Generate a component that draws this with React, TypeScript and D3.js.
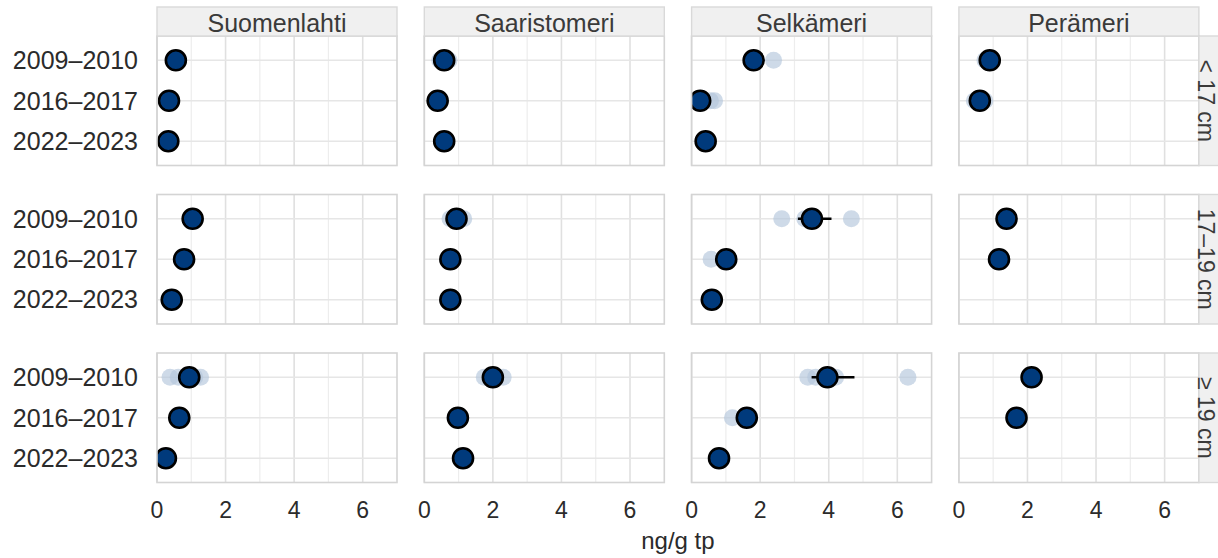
import { useEffect, useRef } from 'react';
import * as d3 from 'd3';

const regions = ['Suomenlahti', 'Saaristomeri', 'Selkämeri', 'Perämeri'];
const sizeClasses = ['< 17 cm', '17–19 cm', '≥ 19 cm'];
const periods = ['2009–2010', '2016–2017', '2022–2023'];
const xTicks = [0, 2, 4, 6];
const xMinor = [1, 3, 5];

// mean per region, one value per period (null = no sample)
const meanSmall = [
  [0.55, 0.35, 0.33],
  [0.58, 0.39, 0.58],
  [1.81, 0.25, 0.41],
  [0.9, 0.61, null],
];
const meanMedium = [
  [1.04, 0.79, 0.43],
  [0.94, 0.76, 0.76],
  [3.51, 1.01, 0.59],
  [1.39, 1.17, null],
];
const meanLarge = [
  [0.94, 0.65, 0.26],
  [2.0, 0.98, 1.13],
  [3.96, 1.61, 0.8],
  [2.12, 1.68, null],
];
const means = [meanSmall, meanMedium, meanLarge];

// [size, region, period, lo, hi]
const errorBars = [
  [1, 2, 0, 3.1, 4.08],
  [2, 2, 0, 3.5, 4.75],
];

// individual samples: [size, region, period, value]
const samples = [
  [0, 1, 0, 0.45], [0, 1, 0, 0.72],
  [0, 2, 0, 2.39], [0, 2, 1, 0.55], [0, 2, 1, 0.67],
  [0, 3, 0, 0.76], [0, 3, 0, 0.95], [0, 3, 1, 0.45], [0, 3, 1, 0.76],
  [1, 1, 0, 0.75], [1, 1, 0, 1.15],
  [1, 2, 0, 2.63], [1, 2, 0, 3.3], [1, 2, 0, 4.66], [1, 2, 1, 0.57],
  [2, 0, 0, 0.38], [2, 0, 0, 0.62], [2, 0, 0, 1.1], [2, 0, 0, 1.27],
  [2, 1, 0, 1.75], [2, 1, 0, 2.3],
  [2, 2, 0, 3.39], [2, 2, 0, 3.62], [2, 2, 0, 4.2], [2, 2, 0, 6.31], [2, 2, 1, 1.19],
];

const W = 1218;
const H = 558;
const FONT = '"Liberation Sans", Arial, Helvetica, sans-serif';
const TEXT = '#2b2b2b';

const App = () => {
  const svgRef = useRef<SVGSVGElement | null>(null);

  useEffect(() => {
    const svg = d3.select(svgRef.current);
    svg.selectAll('*').remove();

    // panel geometry
    const left0 = 157;
    const panelW = 240;
    const gapX = 27.3;
    const top0 = 36;
    const panelH = 129.5;
    const gapY = 29;
    const px = (c: number) => left0 + c * (panelW + gapX);
    const py = (r: number) => top0 + r * (panelH + gapY);

    const x = d3.scaleLinear().domain([0, 7]).range([0, panelW]);
    const y = d3.scalePoint().domain(periods).range([0, panelH]).padding(0.6);

    const defs = svg.append('defs');

    sizeClasses.forEach((size, r) => {
      regions.forEach((reg, c) => {
        const clipId = `clip-${r}-${c}`;
        defs
          .append('clipPath')
          .attr('id', clipId)
          .append('rect')
          .attr('width', panelW)
          .attr('height', panelH);

        const g = svg.append('g').attr('transform', `translate(${px(c)},${py(r)})`);

        // gridlines
        g.selectAll('.minor')
          .data(xMinor)
          .join('line')
          .attr('x1', (d) => x(d))
          .attr('x2', (d) => x(d))
          .attr('y2', panelH)
          .attr('stroke', '#ededed')
          .attr('stroke-width', 1.2);
        g.selectAll('.major')
          .data(xTicks)
          .join('line')
          .attr('x1', (d) => x(d))
          .attr('x2', (d) => x(d))
          .attr('y2', panelH)
          .attr('stroke', '#e0e0e0')
          .attr('stroke-width', 1.6);
        g.selectAll('.hgrid')
          .data(periods)
          .join('line')
          .attr('x2', panelW)
          .attr('y1', (d) => y(d)!)
          .attr('y2', (d) => y(d)!)
          .attr('stroke', '#e6e6e6')
          .attr('stroke-width', 1.6);

        const plot = g.append('g').attr('clip-path', `url(#${clipId})`);

        // individual samples
        plot
          .selectAll('.sample')
          .data(samples.filter((s) => s[0] === r && s[1] === c))
          .join('circle')
          .attr('cx', (d) => x(d[3]))
          .attr('cy', (d) => y(periods[d[2]])!)
          .attr('r', 8.5)
          .attr('fill', '#b4c6dc')
          .attr('fill-opacity', 0.65);

        // error bars
        plot
          .selectAll('.err')
          .data(errorBars.filter((e) => e[0] === r && e[1] === c))
          .join('line')
          .attr('x1', (d) => x(d[3]))
          .attr('x2', (d) => x(d[4]))
          .attr('y1', (d) => y(periods[d[2]])!)
          .attr('y2', (d) => y(periods[d[2]])!)
          .attr('stroke', '#000')
          .attr('stroke-width', 2.6);

        // means
        const vals = means[r][c]
          .map((v, i) => ({ v, p: periods[i] }))
          .filter((d) => d.v != null);
        plot
          .selectAll('.mean')
          .data(vals)
          .join('circle')
          .attr('cx', (d) => x(d.v as number))
          .attr('cy', (d) => y(d.p)!)
          .attr('r', 10)
          .attr('fill', '#003a7c')
          .attr('stroke', '#000')
          .attr('stroke-width', 2.6);

        // panel border
        g.append('rect')
          .attr('width', panelW)
          .attr('height', panelH)
          .attr('fill', 'none')
          .attr('stroke', '#d4d4d4')
          .attr('stroke-width', 1.6);

        // top strips
        if (r === 0) {
          g.append('rect')
            .attr('y', -29)
            .attr('width', panelW)
            .attr('height', 29)
            .attr('fill', '#f0f0f0')
            .attr('stroke', '#d9d9d9')
            .attr('stroke-width', 1.4);
          g.append('text')
            .attr('x', panelW / 2)
            .attr('y', -4)
            .attr('text-anchor', 'middle')
            .attr('font-size', 25)
            .attr('fill', '#3a3a3a')
            .text(reg);
        }

        // right strips
        if (c === regions.length - 1) {
          g.append('rect')
            .attr('x', panelW)
            .attr('width', 29)
            .attr('height', panelH)
            .attr('fill', '#f0f0f0')
            .attr('stroke', '#d9d9d9')
            .attr('stroke-width', 1.4);
          g.append('text')
            .attr('transform', `translate(${panelW + 7.5},${panelH / 2}) rotate(90)`)
            .attr('text-anchor', 'middle')
            .attr('dy', '0.35em')
            .attr('font-size', 23)
            .attr('fill', '#3a3a3a')
            .text(size);
        }

        // y axis labels
        if (c === 0) {
          g.selectAll('.ylab')
            .data(periods)
            .join('text')
            .attr('x', -19)
            .attr('y', (d) => y(d)!)
            .attr('dy', '0.35em')
            .attr('text-anchor', 'end')
            .attr('font-size', 25)
            .attr('fill', TEXT)
            .text((d) => d);
        }

        // x axis labels
        if (r === sizeClasses.length - 1) {
          g.selectAll('.xlab')
            .data(xTicks)
            .join('text')
            .attr('x', (d) => x(d))
            .attr('y', panelH + 35)
            .attr('text-anchor', 'middle')
            .attr('font-size', 23)
            .attr('fill', TEXT)
            .text((d) => d3.format('d')(d));
        }
      });
    });

    svg
      .append('text')
      .attr('x', (px(0) + px(3) + panelW) / 2)
      .attr('y', 549)
      .attr('text-anchor', 'middle')
      .attr('font-size', 24)
      .attr('fill', TEXT)
      .text('ng/g tp');
  }, []);

  return (
    <svg
      ref={svgRef}
      width={W}
      height={H}
      style={{ position: 'absolute', left: 0, top: 0, background: '#fff', fontFamily: FONT }}
    />
  );
};

export default App;
